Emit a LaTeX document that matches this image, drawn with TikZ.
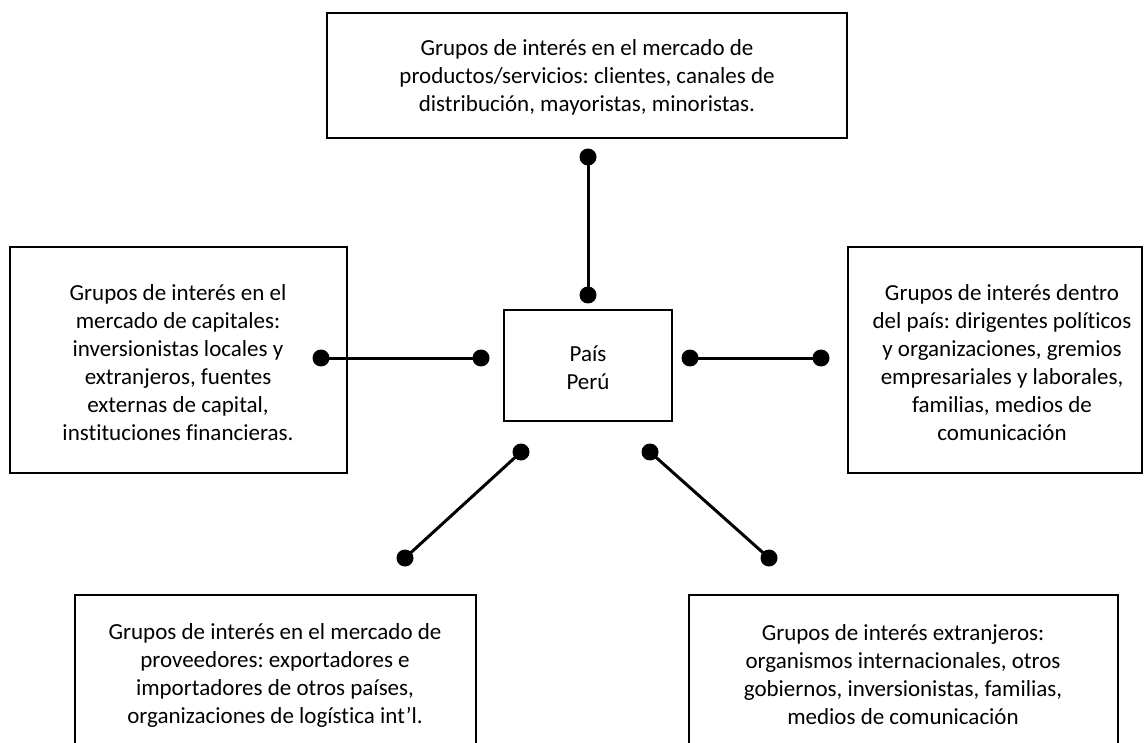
\documentclass[tikz,border=0pt]{standalone}
\usepackage{fontspec}
\setmainfont[Ligatures=NoCommon]{Carlito}
\frenchspacing
\begin{document}
\begin{tikzpicture}[x=1pt,y=-1pt,
  box/.style={draw=black,line width=2pt,rectangle,inner sep=0pt},
  txt/.style={align=center,inner sep=0pt,font=\fontsize{23}{28}\selectfont},
  dot/.style={circle,fill=black,inner sep=0pt,minimum size=17pt},
  conn/.style={draw=black,line width=3pt}]
\useasboundingbox (0,0) rectangle (1146,743);
\clip (0,0) rectangle (1146,743);

% boxes
\node[box,minimum width=520pt,minimum height=125pt] (top) at (587,75.5) {};
\node[txt] (toptxt) at (587,77) {Grupos de interés en el mercado de\\productos/servicios: clientes, canales de\\distribución, mayoristas, minoristas.};

\node[box,minimum width=337pt,minimum height=226pt] (left) at (178.5,360) {};
\node[txt] (lefttxt) at (178,363) {Grupos de interés en el\\mercado de capitales:\\inversionistas locales y\\extranjeros, fuentes\\externas de capital,\\instituciones financieras.};

\node[box,minimum width=294pt,minimum height=226pt] (right) at (995,360) {};
\node[txt] (righttxt) at (1002,363) {Grupos de interés dentro\\del país: dirigentes políticos\\y organizaciones, gremios\\empresariales y laborales,\\familias, medios de\\comunicación};

\node[box,minimum width=168pt,minimum height=111pt] (center) at (588,365.5) {};
\node[txt] (centertxt) at (588,368) {País\\Perú};

\node[box,minimum width=401pt,minimum height=170pt] (bl) at (275.5,680) {};
\node[txt] (bltxt) at (275,675) {Grupos de interés en el mercado de\\proveedores: exportadores e\\importadores de otros países,\\organizaciones de logística int’l.};

\node[box,minimum width=429pt,minimum height=170pt] (br) at (903.5,680) {};
\node[txt] (brtxt) at (903,675) {Grupos de interés extranjeros:\\organismos internacionales, otros\\gobiernos, inversionistas, familias,\\medios de comunicación};

% dots
\node[dot] (t1) at (588,157) {};
\node[dot] (t2) at (588,295) {};
\node[dot] (l1) at (321,358) {};
\node[dot] (l2) at (481,358) {};
\node[dot] (r1) at (690,358) {};
\node[dot] (r2) at (821,358) {};
\node[dot] (bl1) at (521,452) {};
\node[dot] (bl2) at (405,558) {};
\node[dot] (br1) at (650,452) {};
\node[dot] (br2) at (769,558) {};

% connectors
\draw[conn] (t1.center) -- (t2.center);
\draw[conn] (l1.center) -- (l2.center);
\draw[conn] (r1.center) -- (r2.center);
\draw[conn] (bl1.center) -- (bl2.center);
\draw[conn] (br1.center) -- (br2.center);
\end{tikzpicture}
\end{document}
